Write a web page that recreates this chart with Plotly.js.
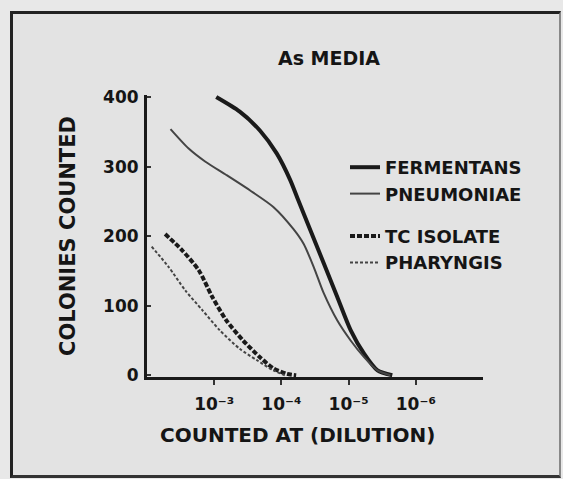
<!DOCTYPE html>
<html>
<head>
<meta charset="utf-8">
<script src="https://cdn.plot.ly/plotly-3.0.1.min.js"></script>
<style>
  html, body { margin: 0; padding: 0; background: #e8e8e8; width: 563px; height: 479px; overflow: hidden; }
  #frame { position: absolute; left: 10px; top: 11px; width: 551px; height: 467px; box-sizing: border-box;
           border-top: 3px solid #222; border-left: 3px solid #222; border-bottom: 3px solid #333; border-right: 2px solid #888;
           background: #e3e3e3; }
  #chart { position: absolute; left: 0; top: 0; width: 563px; height: 479px; }
</style>
</head>
<body>
<div id="frame"></div>
<div id="chart"></div>
<script>
// x values are dilution exponents n (dilution = 10^-n)
const tickVals = [3, 4, 5, 6];
const tickLabels = ['10\u207B\u00B3', '10\u207B\u2074', '10\u207B\u2075', '10\u207B\u2076'];
const yTickVals = [0, 100, 200, 300, 400];

const fermentansX = [3.03, 3.38, 3.68, 3.93, 4.13, 4.25, 4.43, 4.63, 4.83, 5.03, 5.23, 5.43, 5.65];
const fermentansY = [400, 379, 352, 319, 281, 252, 209, 161, 113, 65, 31, 7, 0];

const pneumoniaeX = [2.35, 2.62, 2.87, 3.18, 3.53, 3.88, 4.18, 4.33, 4.48, 4.63, 4.83, 5.03, 5.23, 5.43, 5.62];
const pneumoniaeY = [354, 326, 307, 288, 266, 242, 210, 189, 156, 118, 79, 50, 26, 7, 0];

const tcIsolateX = [2.27, 2.52, 2.77, 2.97, 3.18, 3.43, 3.68, 3.88, 4.08, 4.22];
const tcIsolateY = [203, 180, 151, 113, 79, 50, 26, 10, 2, 0];

const pharyngisX = [2.07, 2.32, 2.57, 2.82, 3.08, 3.38, 3.63, 3.88, 4.05];
const pharyngisY = [185, 156, 122, 94, 65, 38, 22, 7, 0];

const seriesNames = ['FERMENTANS', 'PNEUMONIAE', 'TC ISOLATE', 'PHARYNGIS'];

const traces = [
  { x: fermentansX, y: fermentansY, name: seriesNames[0], legendgroup: 'a', mode: 'lines',
    line: { color: '#1a1a1a', width: 4, shape: 'spline', smoothing: 0.7 } },
  { x: pneumoniaeX, y: pneumoniaeY, name: seriesNames[1], legendgroup: 'a', mode: 'lines',
    line: { color: '#444', width: 2, shape: 'spline', smoothing: 0.7 } },
  { x: tcIsolateX, y: tcIsolateY, name: seriesNames[2], legendgroup: 'b', mode: 'lines',
    line: { color: '#1a1a1a', width: 4, dash: '5px,2px', shape: 'spline', smoothing: 0.7 } },
  { x: pharyngisX, y: pharyngisY, name: seriesNames[3], legendgroup: 'b', mode: 'lines',
    line: { color: '#444', width: 2, dash: '3px,2px', shape: 'spline', smoothing: 0.7 } }
];

const F = 'DejaVu Sans, Liberation Sans, sans-serif';

const layout = {
  width: 563, height: 479,
  paper_bgcolor: 'rgba(0,0,0,0)', plot_bgcolor: 'rgba(0,0,0,0)',
  margin: { l: 147, r: 80, t: 95, b: 102, pad: 0 },
  font: { family: F, color: '#151515', size: 17, weight: 'bold' },
  title: { text: 'As MEDIA', x: 329 / 563, xref: 'container', xanchor: 'center',
           y: 1 - 58 / 479, yref: 'container', yanchor: 'middle',
           font: { family: F, size: 19, weight: 'bold', color: '#151515' } },
  xaxis: {
    range: [2, 7], tickmode: 'array', tickvals: tickVals, ticktext: tickLabels,
    showline: true, linewidth: 3, linecolor: '#1a1a1a', mirror: false,
    ticks: 'outside', ticklen: 5, tickwidth: 2, tickcolor: '#333',
    showgrid: false, zeroline: false, ticklabelstandoff: 5,
    tickfont: { family: F, size: 17, weight: 'bold', color: '#151515' }
  },
  yaxis: {
    range: [-2.5, 403], tickmode: 'array', tickvals: yTickVals,
    showline: true, linewidth: 3, linecolor: '#1a1a1a',
    ticks: 'inside', ticklen: 4, tickwidth: 2, tickcolor: '#333',
    showgrid: false, zeroline: false, ticklabelstandoff: 2,
    tickfont: { family: F, size: 17, weight: 'bold', color: '#151515' },
    title: { text: 'COLONIES COUNTED', standoff: 22,
             font: { family: F, size: 21, weight: 'bold', color: '#151515' } }
  },
  annotations: [
    { text: 'COUNTED AT (DILUTION)', xref: 'paper', yref: 'paper',
      x: (297 - 147) / 336, y: -(435 - 377) / 282, xanchor: 'center', yanchor: 'middle',
      showarrow: false, font: { family: F, size: 20, weight: 'bold', color: '#151515' } }
  ],
  showlegend: true,
  legend: {
    x: (345 - 147) / 336, xref: 'paper', xanchor: 'left',
    y: 1 - (149 - 95) / 282, yref: 'paper', yanchor: 'top',
    bgcolor: 'rgba(0,0,0,0)', borderwidth: 0,
    font: { family: F, size: 18, weight: 'bold', color: '#151515' },
    traceorder: 'grouped', tracegroupgap: 16, itemwidth: 30
  }
};

Plotly.newPlot('chart', traces, layout, { staticPlot: true, displayModeBar: false });
</script>
</body>
</html>
